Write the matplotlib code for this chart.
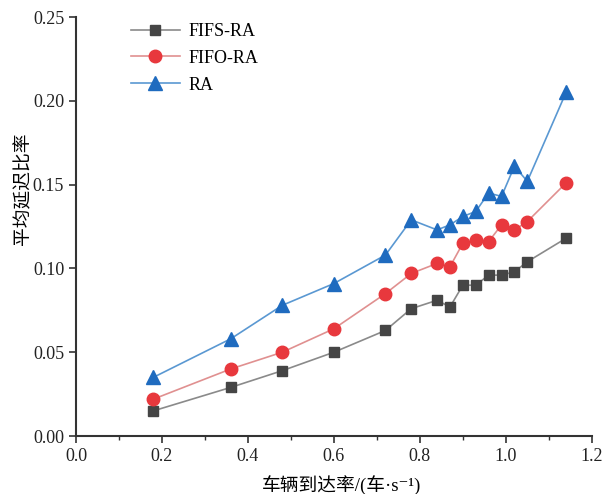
import matplotlib.pyplot as plt
from matplotlib.ticker import MultipleLocator

plt.rcParams['font.family'] = ['Liberation Serif', 'Noto Sans CJK SC', 'DejaVu Sans']

# 车辆到达率 (车/s)
rate = [0.18, 0.36, 0.48, 0.60, 0.72, 0.78, 0.84, 0.87, 0.90, 0.93, 0.96, 0.99, 1.02, 1.05, 1.14]

# 平均延迟比率
fifs_ra = [0.015, 0.029, 0.039, 0.050, 0.063, 0.076, 0.081, 0.077, 0.090, 0.090, 0.096, 0.096, 0.098, 0.104, 0.118]
fifo_ra = [0.022, 0.040, 0.050, 0.064, 0.085, 0.097, 0.103, 0.101, 0.115, 0.117, 0.116, 0.126, 0.123, 0.128, 0.151]
ra = [0.035, 0.058, 0.078, 0.091, 0.108, 0.129, 0.123, 0.126, 0.131, 0.134, 0.145, 0.143, 0.161, 0.152, 0.205]

fig = plt.figure(figsize=(6.04, 4.94), dpi=100)
ax = fig.add_axes([0.1258, 0.1174, 0.854, 0.848])

ax.plot(rate, fifs_ra, color='#8a8a8a', lw=1.2, marker='s', ms=7.5,
        mfc='#454545', mec='#454545', label='FIFS-RA')
ax.plot(rate, fifo_ra, color='#e09090', lw=1.2, marker='o', ms=9,
        mfc='#e8383d', mec='#e8383d', label='FIFO-RA')
ax.plot(rate, ra, color='#5a98d2', lw=1.2, marker='^', ms=10,
        mfc='#1f6bbf', mec='#1f6bbf', label='RA')

ax.set_xlim(0, 1.2)
ax.set_ylim(0, 0.25)
ax.xaxis.set_major_locator(MultipleLocator(0.2))
ax.xaxis.set_minor_locator(MultipleLocator(0.1))
ax.yaxis.set_major_locator(MultipleLocator(0.05))
ax.xaxis.set_major_formatter(plt.FormatStrFormatter('%.1f'))
ax.yaxis.set_major_formatter(plt.FormatStrFormatter('%.2f'))

for side in ['top', 'right']:
    ax.spines[side].set_visible(False)
for side in ['left', 'bottom']:
    ax.spines[side].set_linewidth(1.5)
    ax.spines[side].set_color('#333333')
ax.tick_params(which='major', direction='out', length=5, width=1.2,
               labelsize=13, colors='#333333', labelcolor='#222222')
ax.tick_params(which='minor', direction='out', length=3, width=1.0, colors='#333333')

ax.set_xlabel('车辆到达率/(车·s⁻¹)', fontsize=13.5)
ax.xaxis.set_label_coords(0.515, -0.093)
ax.set_ylabel('平均延迟比率', fontsize=13.5)
ax.yaxis.set_label_coords(-0.085, 0.59)

ax.legend(loc='upper left', bbox_to_anchor=(0.075, 1.025), frameon=False,
          fontsize=13, handlelength=2.7, handletextpad=0.5, labelspacing=0.55)

fig.savefig('out.png', dpi=100)
